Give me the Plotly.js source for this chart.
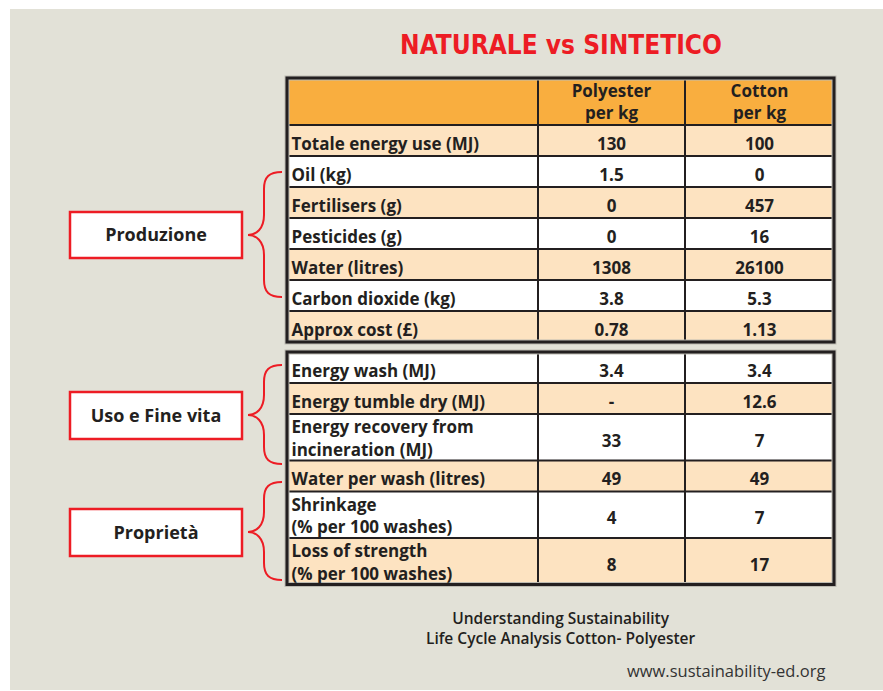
<!DOCTYPE html>
<html><head><meta charset="utf-8">
<script src="https://cdn.plot.ly/plotly-3.0.1.min.js"></script>
<style>html,body{margin:0;padding:0;background:#fff}</style>
</head><body><div id="chart" style="width:883px;height:691px"></div>
<script>
// ---------- data ----------
const chartTitle = 'NATURALE vs SINTETICO';
const seriesNames = ['Polyester<br>per kg', 'Cotton<br>per kg'];
const prodLabels = ['Totale energy use (MJ)', 'Oil (kg)', 'Fertilisers (g)', 'Pesticides (g)', 'Water (litres)', 'Carbon dioxide (kg)', 'Approx cost (£)'];
const prodPolyester = [130, 1.5, 0, 0, 1308, 3.8, 0.78];
const prodCotton = [100, 0, 457, 16, 26100, 5.3, 1.13];
const useLabels = ['Energy wash (MJ)', 'Energy tumble dry (MJ)', 'Energy recovery from<br>incineration (MJ)', 'Water per wash (litres)', 'Shrinkage<br>(% per 100 washes)', 'Loss of strength<br>(% per 100 washes)'];
const usePolyester = [3.4, null, 33, 49, 4, 8];
const useCotton = [3.4, 12.6, 7, 49, 7, 17];
const groupLabels = ['Produzione', 'Uso e Fine vita', 'Proprietà'];
const footerLines = ['Understanding Sustainability', 'Life Cycle Analysis Cotton- Polyester'];
const sourceUrl = 'www.sustainability-ed.org';

// ---------- styles / layout constants ----------
const FONT = 'Open Sans, Noto Sans, sans-serif';
const DARK = '#231F20';
const RED = '#ED1C24';
const BG = '#E2E1D7';
const ORANGE = '#F9AE3F';
const PEACH = '#FDE3C1';
const WHITE = '#FFFFFF';
const W = 883, H = 691;
const X0 = 287, XC1 = 538, XC2 = 685, X1 = 834;
const T1_TOP = 78, HEAD_H = 47, T2_TOP = 352;
const ROW_S = 31, ROW_D1 = 47, ROW_D2 = 46.5;
const OFF_SINGLE = 5, OFF_DOUBLE = 3, FS = 17;
const groupBoxes = [[212, 258], [392, 439], [509, 556]];
const braces = [[172, 297, 235], [365, 464, 415], [482, 580, 532]];
const BOX_X0 = 70, BOX_X1 = 242;

const fmt = v => (v === null || v === undefined) ? '-' : String(v);

function rowsFor(top, labels, singleH, doubleH) {
  let y = top;
  return labels.map(l => {
    const n = l.split('<br>').length;
    const h = n > 1 ? doubleH : singleH;
    const r = {y0: y, y1: y + h, c: y + h / 2, label: l, off: n > 1 ? OFF_DOUBLE : OFF_SINGLE};
    y += h;
    return r;
  });
}

const rows1 = rowsFor(T1_TOP + HEAD_H, prodLabels, ROW_S, ROW_D1);
const rows2 = rowsFor(T2_TOP, useLabels, ROW_S, ROW_D2);

const shapes = [];
// background panel
shapes.push({type: 'rect', xref: 'x', yref: 'y', x0: 10, x1: W, y0: 9, y1: 690, fillcolor: BG, line: {width: 0}, layer: 'below'});

function tableShapes(top, rows, hasHeader, startPeach) {
  const bottom = rows[rows.length - 1].y1;
  if (hasHeader) {
    shapes.push({type: 'rect', xref: 'x', yref: 'y', x0: X0, x1: X1, y0: top, y1: top + HEAD_H, fillcolor: ORANGE, line: {width: 0}, layer: 'below'});
  }
  rows.forEach((r, i) => {
    const peach = (i % 2 === 0) === startPeach;
    shapes.push({type: 'rect', xref: 'x', yref: 'y', x0: X0, x1: X1, y0: r.y0, y1: r.y1, fillcolor: peach ? PEACH : WHITE, line: {width: 0}, layer: 'below'});
  });
  const seps = rows.map(r => r.y0).filter(y => y > top + 0.5);
  seps.forEach(y => shapes.push({type: 'line', xref: 'x', yref: 'y', x0: X0, x1: X1, y0: y, y1: y, line: {color: DARK, width: 2}, layer: 'below'}));
  [XC1, XC2].forEach(x => shapes.push({type: 'line', xref: 'x', yref: 'y', x0: x, x1: x, y0: top, y1: bottom, line: {color: DARK, width: 2}, layer: 'below'}));
  shapes.push({type: 'rect', xref: 'x', yref: 'y', x0: X0, x1: X1, y0: top, y1: bottom, line: {color: '#BDBBB2', width: 5}, layer: 'below'});
  shapes.push({type: 'rect', xref: 'x', yref: 'y', x0: X0, x1: X1, y0: top, y1: bottom, line: {color: DARK, width: 3}, layer: 'below'});
}
tableShapes(T1_TOP, rows1, true, true);
tableShapes(T2_TOP, rows2, false, false);

// group boxes and braces
groupBoxes.forEach(b => shapes.push({type: 'rect', xref: 'x', yref: 'y', x0: BOX_X0, x1: BOX_X1, y0: b[0], y1: b[1], fillcolor: WHITE, line: {color: RED, width: 2.5}, layer: 'below'}));
function bracePath(yTop, yBot, yTip) {
  const xe = 282, xm = 264, xt = 248;
  return `M ${xe},${yTop} C ${xm + 5},${yTop} ${xm},${yTop + 5} ${xm},${yTop + 17} ` +
    `L ${xm},${yTip - 20} C ${xm},${yTip - 6} ${xt + 8},${yTip} ${xt},${yTip} ` +
    `C ${xt + 8},${yTip} ${xm},${yTip + 6} ${xm},${yTip + 20} ` +
    `L ${xm},${yBot - 17} C ${xm},${yBot - 5} ${xm + 5},${yBot} ${xe},${yBot}`;
}
braces.forEach(b => shapes.push({type: 'path', xref: 'x', yref: 'y', path: bracePath(b[0], b[1], b[2]), line: {color: RED, width: 2}, layer: 'below'}));

// ---------- text traces ----------
const textFont = {family: FONT, size: FS, color: DARK, weight: 700};
const allRows = rows1.concat(rows2);
const labelX = allRows.map(() => X0 + 4.5);
const labelY = allRows.map(r => r.c + r.off);
const labelT = allRows.map(r => r.label);

function valuePoints(rows, a, b) {
  const xs = [], ys = [], ts = [];
  rows.forEach((r, i) => {
    xs.push((XC1 + XC2) / 2, (XC2 + X1) / 2);
    ys.push(r.c + OFF_SINGLE, r.c + OFF_SINGLE);
    ts.push(fmt(a[i]), fmt(b[i]));
  });
  return {xs, ys, ts};
}
const vp1 = valuePoints(rows1, prodPolyester, prodCotton);
const vp2 = valuePoints(rows2, usePolyester, useCotton);

const headC = T1_TOP + HEAD_H / 2;

const base = {type: 'scatter', mode: 'text', hoverinfo: 'skip', cliponaxis: false, showlegend: false, textfont: textFont};
const traces = [
  Object.assign({}, base, {x: labelX, y: labelY, text: labelT, textposition: 'middle right'}),
  Object.assign({}, base, {x: vp1.xs.concat(vp2.xs), y: vp1.ys.concat(vp2.ys), text: vp1.ts.concat(vp2.ts), textposition: 'middle center'}),
  Object.assign({}, base, {x: [(XC1 + XC2) / 2, (XC2 + X1) / 2], y: [headC + 2, headC + 2], text: seriesNames, textposition: 'middle center'}),
  Object.assign({}, base, {x: groupLabels.map(() => (BOX_X0 + BOX_X1) / 2), y: groupBoxes.map(b => (b[0] + b[1]) / 2 + 1.5), text: groupLabels, textposition: 'middle center', textfont: Object.assign({}, textFont, {size: 18})})
];

const annotations = [
  {xref: 'x', yref: 'y', x: 561, y: 627.5, text: footerLines.join('<br>'), showarrow: false, xanchor: 'center', yanchor: 'middle', align: 'center', font: {family: FONT, size: 15.5, color: DARK, weight: 600}},
  {xref: 'x', yref: 'y', x: 726, y: 670, text: sourceUrl, showarrow: false, xanchor: 'center', yanchor: 'middle', font: {family: FONT, size: 16.5, color: '#333333'}}
];

const layout = {
  width: W, height: H,
  margin: {l: 0, r: 0, t: 0, b: 0, pad: 0},
  paper_bgcolor: WHITE, plot_bgcolor: 'rgba(0,0,0,0)',
  title: {text: chartTitle, x: 561 / W, xanchor: 'center', xref: 'container', y: 1 - 44.5 / H, yanchor: 'middle', yref: 'container',
    font: {family: 'Liberation Sans Narrow, DejaVu Sans Condensed, Roboto, sans-serif', size: 26, color: RED, weight: 700}},
  xaxis: {range: [0, W], visible: false, fixedrange: true},
  yaxis: {range: [H, 0], visible: false, fixedrange: true},
  shapes: shapes,
  annotations: annotations,
  showlegend: false,
  hovermode: false
};
Plotly.newPlot('chart', traces, layout, {staticPlot: true, displayModeBar: false});
</script></body></html>
